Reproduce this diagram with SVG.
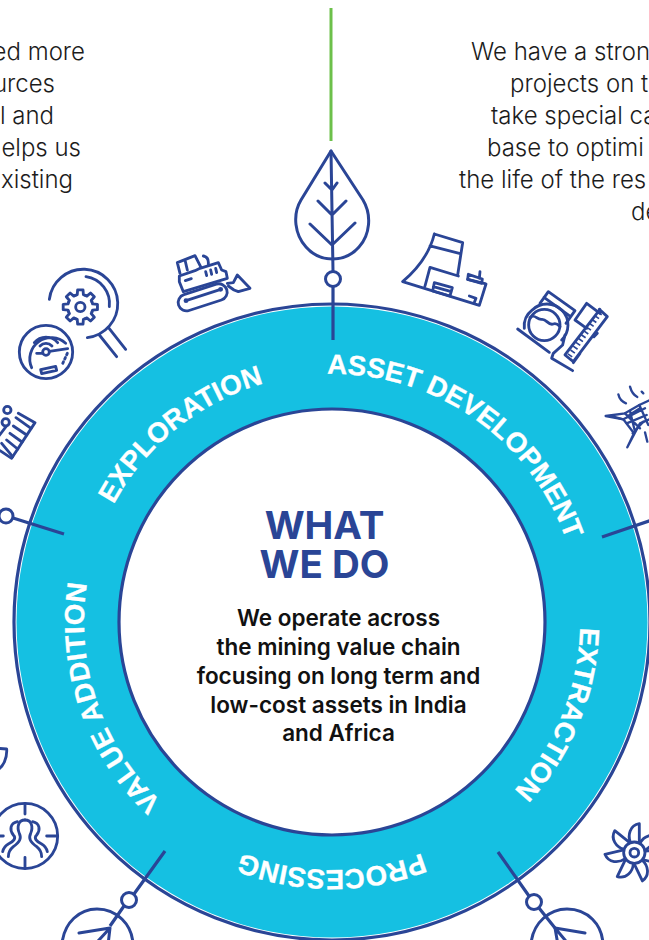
<svg xmlns="http://www.w3.org/2000/svg" width="649" height="940" viewBox="0 0 649 940">
<style>
.i{fill:none;stroke:#2a4596;stroke-linecap:round;stroke-linejoin:round}
.z{stroke-width:8.5}
.c{fill:none;stroke:#2a4596;stroke-width:3.2}
.b{font-family:Inter,"Liberation Sans",sans-serif;font-size:24px;font-weight:300;fill:#1c1c1c}
.r{font-family:"Liberation Sans",Arial,sans-serif;font-size:27.7px;font-weight:700;fill:#fff;stroke:#fff;stroke-width:.3}
.h{font-family:Inter,"Liberation Sans",sans-serif;font-size:38.5px;font-weight:700;fill:#2a4596;text-anchor:middle}
.m{font-family:Inter,"Liberation Sans",sans-serif;font-size:22.5px;font-weight:600;fill:#111;text-anchor:middle}
</style>
<defs>
<path id="arc" d="M208 836.8A248 248 0 0 1 456 407.2A248 248 0 0 1 208 836.8"/>
<path id="tooth" d="M-14.5 -35.1L-9.2 -36.9L-8.1 -51.4L8.1 -51.4L9.2 -36.9L14.5 -35.1"/>
<path id="blade" d="M-12 -32C-20 -52 -14 -82 15 -87L15 -32"/>
</defs>
<rect width="649" height="940" fill="#fff"/>
<g id="ring">
<circle cx="332" cy="622" r="315.5" fill="#15c0e2"/>
<circle cx="332" cy="622" r="318" class="c"/>
<circle cx="332" cy="622" r="213" fill="#fff" stroke="#2a4596" stroke-width="3.2"/>
<text class="r" letter-spacing=".6"><textPath href="#arc" startOffset="58">VALUE ADDITION</textPath></text>
<text class="r"><textPath href="#arc" startOffset="382">EXPLORATION</textPath></text>
<text class="r"><textPath href="#arc" startOffset="644">ASSET DEVELOPMENT</textPath></text>
<text class="r"><textPath href="#arc" startOffset="1044">EXTRACTION</textPath></text>
<text class="r"><textPath href="#arc" startOffset="1336">PROCESSING</textPath></text>
</g>
<g id="connectors">
<line x1="331" y1="8" x2="331" y2="141" stroke="#6cc04a" stroke-width="3"/>
<path class="c" d="M333 287V340"/>
<path class="c" d="M602 537L652 520"/>
<path class="c" d="M13 518L64 534"/>
<path class="c" d="M165 851L134 894M124 906L110 926"/>
<path class="c" d="M498 852L529 896M539 908L555 928"/>
</g>
<g id="text-left">
<text class="b" text-anchor="end" x="85" y="60">ed more</text>
<text class="b" text-anchor="end" x="55" y="92">urces</text>
<text class="b" text-anchor="end" x="54" y="124">l and</text>
<text class="b" text-anchor="end" x="81" y="156">elps us</text>
<text class="b" text-anchor="end" x="73" y="188">xisting</text>
</g>
<g id="text-right">
<text class="b" x="471" y="60">We have a stron</text>
<text class="b" x="510" y="92">projects on t</text>
<text class="b" x="491" y="124">take special ca</text>
<text class="b" x="487" y="156">base to optimi</text>
<text class="b" x="459" y="188">the life of the res</text>
<text class="b" x="631" y="220">de</text>
</g>
<g id="center">
<text class="h" x="324.5" y="539">WHAT</text>
<text class="h" x="324.5" y="578">WE DO</text>
<text class="m" x="338.5" y="626">We operate across</text>
<text class="m" x="338.5" y="655">the mining value chain</text>
<text class="m" x="338.5" y="684">focusing on long term and</text>
<text class="m" x="338.5" y="713">low-cost assets in India</text>
<text class="m" x="338.5" y="741">and Africa</text>
</g>
<g id="leaf-top" class="i" stroke-width="3">
<path d="M331 151L301 200C292 215 295 235 306 247C320 263 345 263 359 247C370 235 372 215 363 200Z"/>
<path d="M331 151L333 271M325 183L332 190L337 183M318 201L332 215L346 201M310 224L332 245L355 223"/>
<circle cx="333" cy="279" r="7.5"/>
</g>
<g id="node-left" class="i" stroke-width="3"><circle cx="6" cy="516" r="7"/></g>
<g id="leaf-bl" class="i" stroke-width="3">
<circle cx="129" cy="900" r="7.5"/>
<path d="M62 944C64 922 80 909 97 909C116 909 133 924 133 946"/>
<path d="M110 928L88 952M79 933L110 928L108 945"/>
</g>
<g id="leaf-br" class="i" stroke-width="3">
<circle cx="534" cy="902" r="7.5"/>
<path d="M531 944C533 922 550 909 567 909C587 909 603 924 603 946"/>
<path d="M555 928L575 952M585 933L555 928L558 945"/>
</g>
<g id="plant" class="i z" transform="translate(390 220) scale(.3333)">
<path d="M133 42L218 68L203 165M133 42C120 95 85 145 38 185L268 256L288 192L233 178M105 198L120 142L205 168M120 78L208 100"/>
<path d="M235 163L233 178L275 190L277 177ZM270 155L268 175"/>
<path d="M133 188L187 203L180 228L128 213ZM130 200L184 215M238 228L258 235L252 250"/>
</g>
<g id="machine" class="i z" transform="translate(390 220) scale(.3333)">
<circle cx="463" cy="315" r="47"/>
<path d="M515 360A62 62 0 0 0 427 270A62 62 0 0 0 403 325"/>
<path d="M420 293C435 280 440 300 455 298C470 296 475 318 490 312C500 308 505 315 510 320"/>
<path d="M383 327L478 397M450 250L475 215L555 272L528 310M462 232L542 290"/>
<path d="M525 345L518 375L490 400L485 415L548 452"/>
<path d="M555 300L590 250L630 280M555 300L590 325M630 268L525 405L550 425L652 290L628 268M612 350L622 340M550 428L570 400"/>
<path d="M630 278L536 412" stroke-width="16" stroke-dasharray="5 9" stroke-linecap="butt"/>
</g>
<g id="pylon" class="i" stroke-width="7" transform="translate(590 375) scale(.3333)">
<path d="M47 123L105 115L148 90L180 75M47 123L100 133L132 175L112 217L150 145L185 130"/>
<path d="M105 115L150 160M120 108L135 170M100 133L165 100M110 145L170 120M148 90L175 150M70 125L100 133M118 120L150 100M128 175L160 140"/>
<path d="M85 58C88 72 95 80 108 85M120 35C124 50 130 60 142 66M155 50L160 55M165 172L172 200"/>
</g>
<g id="magnifier" class="i z" transform="translate(0 240) scale(.3333)">
<path d="M148 178A103 103 0 1 1 262 293"/>
<path d="M258 110A82 82 0 0 1 328 200M298 285L350 350M325 262L377 328"/>
<circle cx="241" cy="201" r="14"/>
<g transform="translate(241 201)">
<use href="#tooth"/><use href="#tooth" transform="rotate(45)"/><use href="#tooth" transform="rotate(90)"/><use href="#tooth" transform="rotate(135)"/><use href="#tooth" transform="rotate(180)"/><use href="#tooth" transform="rotate(225)"/><use href="#tooth" transform="rotate(270)"/><use href="#tooth" transform="rotate(315)"/>
</g>
</g>
<g id="gauge" class="i z" transform="translate(0 240) scale(.3333)">
<circle cx="138" cy="336" r="80"/>
<path d="M95 383A64 64 0 0 1 197 310M103 308A45 45 0 0 1 173 308M120 318A25 25 0 0 1 156 318"/>
<circle cx="138" cy="336" r="10"/>
<path d="M110 340H128M148 334L203 326"/>
<path d="M202 340L186 375" stroke-dasharray="5 9"/>
<path d="M122 389L167 379L170 391L125 401Z"/>
</g>
<g id="dozer" class="i z" transform="translate(150 240) scale(.3333)">
<path d="M90 100L82 68L135 47L153 82M105 60L112 90M160 48C172 50 176 60 175 72"/>
<path d="M88 108L135 92L150 85L205 68L215 90L228 95L232 115L100 155L88 125Z"/>
<path d="M106 122L124 116M167 95L170 107M182 90L185 103M197 85L200 98"/>
<rect x="82" y="147" width="152" height="50" rx="25" transform="rotate(-18 158 172)"/>
<path d="M108 182L212 148"/>
<circle cx="108" cy="182" r="3"/><circle cx="212" cy="148" r="3"/>
<path d="M232 130L250 128L262 105L300 145L265 155L252 150L235 138"/>
</g>
<g id="chart" class="i z" transform="translate(0 240) scale(.3333)">
<circle cx="22" cy="510" r="11"/><circle cx="17" cy="547" r="11"/>
<path d="M55 520L105 548L35 655L0 632M18 560L-5 590"/>
<path d="M48 533L93 565M40 558L80 585M30 580L66 606M20 600L53 627M5 610L38 650"/>
</g>
<g id="people" class="i z" transform="translate(0 740) scale(.3333)">
<circle cx="75" cy="288" r="98"/>
<path d="M75 190V222M75 352V385M140 288H173M0 288H10"/>
<path d="M75 240C55 240 50 260 58 280C65 295 60 305 40 320C30 328 25 335 25 350"/>
<path d="M75 240C95 240 100 260 92 280C85 295 90 305 110 320C120 328 125 335 125 350"/>
<path d="M52 245C30 250 28 270 40 285C50 295 40 305 25 312C15 318 10 325 8 335"/>
<path d="M98 245C120 250 122 270 110 285C100 295 110 305 125 312C135 318 140 325 142 335"/>
<path d="M-5 25L20 27C22 55 10 80 -10 92"/>
</g>
<g id="fan" class="i z" transform="translate(490 800) scale(.3333)">
<circle cx="433" cy="158" r="32"/><circle cx="433" cy="158" r="13"/>
<g transform="translate(433 158)">
<use href="#blade"/><use href="#blade" transform="rotate(51.4)"/><use href="#blade" transform="rotate(102.8)"/><use href="#blade" transform="rotate(154.3)"/><use href="#blade" transform="rotate(205.7)"/><use href="#blade" transform="rotate(257.1)"/><use href="#blade" transform="rotate(308.6)"/>
</g>
</g>
</svg>
